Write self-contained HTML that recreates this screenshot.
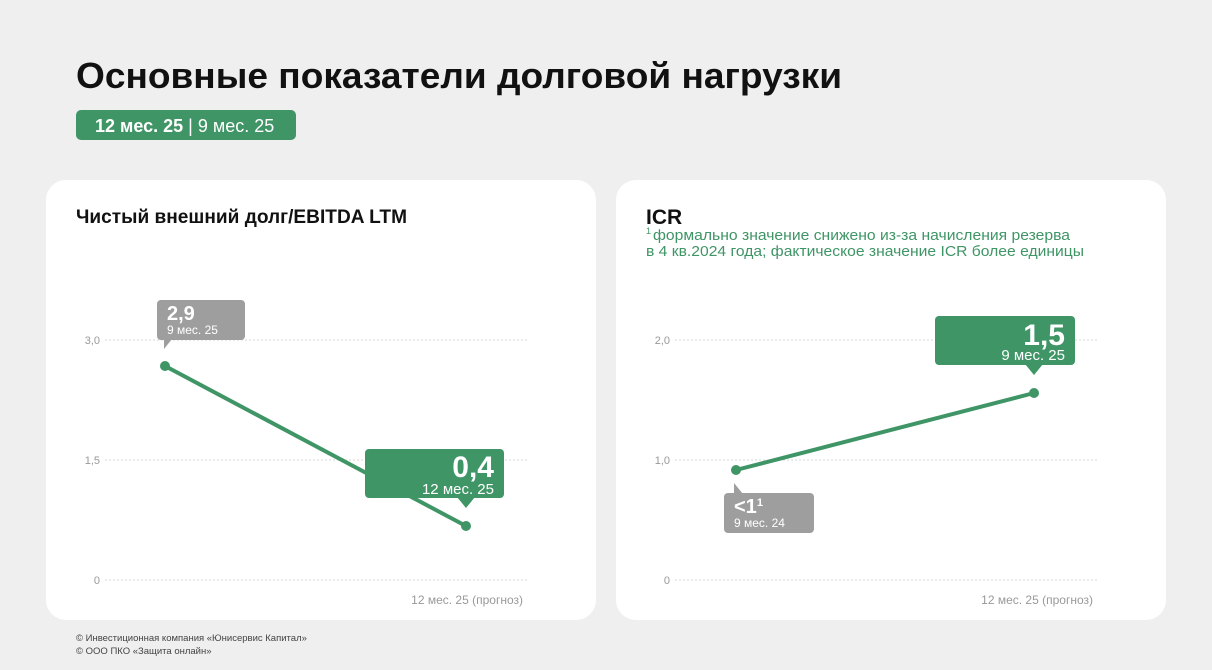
<!DOCTYPE html>
<html><head><meta charset="utf-8"><style>
html,body{margin:0;padding:0;background:#efefef;}
svg{display:block;font-family:"Liberation Sans","DejaVu Sans",sans-serif;}
</style></head><body>
<svg width="1212" height="670" viewBox="0 0 1212 670" xmlns="http://www.w3.org/2000/svg">
<rect width="1212" height="670" fill="#efefef"/>
<text x="76" y="88" font-size="36" font-weight="bold" fill="#111" textLength="766" lengthAdjust="spacingAndGlyphs">Основные показатели долговой нагрузки</text>
<rect x="76" y="110" width="220" height="30" rx="5" fill="#3f9566"/>
<text x="95" y="132" font-size="18" fill="#fff"><tspan font-weight="bold">12 мес. 25</tspan> | 9 мес. 25</text>

<rect x="46" y="180" width="550" height="440" rx="20" fill="#fff"/>
<rect x="616" y="180" width="550" height="440" rx="20" fill="#fff"/>

<text x="76" y="223" font-size="19" font-weight="bold" fill="#111" textLength="331" lengthAdjust="spacingAndGlyphs">Чистый внешний долг/EBITDA LTM</text>
<g stroke="#d6d6d6" stroke-width="1" stroke-dasharray="2,2">
<line x1="105" y1="340" x2="527" y2="340"/><line x1="105" y1="460" x2="527" y2="460"/><line x1="105" y1="580" x2="527" y2="580"/>
<line x1="675" y1="340" x2="1097" y2="340"/><line x1="675" y1="460" x2="1097" y2="460"/><line x1="675" y1="580" x2="1097" y2="580"/>
</g>
<g font-size="11" fill="#999" text-anchor="end">
<text x="100" y="344">3,0</text><text x="100" y="464">1,5</text><text x="100" y="584">0</text>
<text x="670" y="344">2,0</text><text x="670" y="464">1,0</text><text x="670" y="584">0</text>
<text x="523" y="604" font-size="12">12 мес. 25 (прогноз)</text>
<text x="1093" y="604" font-size="12">12 мес. 25 (прогноз)</text>
</g>
<line x1="165" y1="366" x2="466" y2="526" stroke="#3f9566" stroke-width="4" stroke-linecap="round"/>
<circle cx="165" cy="366" r="5" fill="#3f9566"/><circle cx="466" cy="526" r="5" fill="#3f9566"/>
<rect x="157" y="300" width="88" height="40" rx="4" fill="#9e9e9e"/>
<path d="M164 339 L164 349 L172 339 Z" fill="#9e9e9e"/>
<text x="167" y="320" font-size="20" font-weight="bold" fill="#fff">2,9</text>
<text x="167" y="334" font-size="12" fill="#fff">9 мес. 25</text>
<rect x="365" y="449" width="139" height="49" rx="4" fill="#3f9566"/>
<path d="M457 497 L466 508 L475 497 Z" fill="#3f9566"/>
<text x="494" y="477" font-size="30" font-weight="bold" fill="#fff" text-anchor="end">0,4</text>
<text x="494" y="494" font-size="15" fill="#fff" text-anchor="end">12 мес. 25</text>

<text x="646" y="224" font-size="21" font-weight="bold" fill="#111">ICR</text>
<text x="646" y="234" font-size="9" fill="#3f9566">1</text>
<text x="653" y="240" font-size="14.5" fill="#3f9566" textLength="417" lengthAdjust="spacingAndGlyphs">формально значение снижено из-за начисления резерва</text>
<text x="646" y="256" font-size="14.5" fill="#3f9566" textLength="438" lengthAdjust="spacingAndGlyphs">в 4 кв.2024 года; фактическое значение ICR более единицы</text>
<line x1="736" y1="470" x2="1034" y2="393" stroke="#3f9566" stroke-width="4" stroke-linecap="round"/>
<circle cx="736" cy="470" r="5" fill="#3f9566"/><circle cx="1034" cy="393" r="5" fill="#3f9566"/>
<rect x="935" y="316" width="140" height="49" rx="4" fill="#3f9566"/>
<path d="M1025 364 L1034 375 L1043 364 Z" fill="#3f9566"/>
<text x="1065" y="345" font-size="30" font-weight="bold" fill="#fff" text-anchor="end">1,5</text>
<text x="1065" y="360" font-size="15" fill="#fff" text-anchor="end">9 мес. 25</text>
<rect x="724" y="493" width="90" height="40" rx="4" fill="#9e9e9e"/>
<path d="M734 494 L734 483 L743 494 Z" fill="#9e9e9e"/>
<text x="734" y="513" font-size="20" font-weight="bold" fill="#fff">&lt;1<tspan font-size="11" dy="-7">1</tspan></text>
<text x="734" y="527" font-size="12" fill="#fff">9 мес. 24</text>

<text x="76" y="641" font-size="9.5" fill="#444">© Инвестиционная компания «Юнисервис Капитал»</text>
<text x="76" y="654" font-size="9.5" fill="#444">© ООО ПКО «Защита онлайн»</text>
</svg>
</body></html>
